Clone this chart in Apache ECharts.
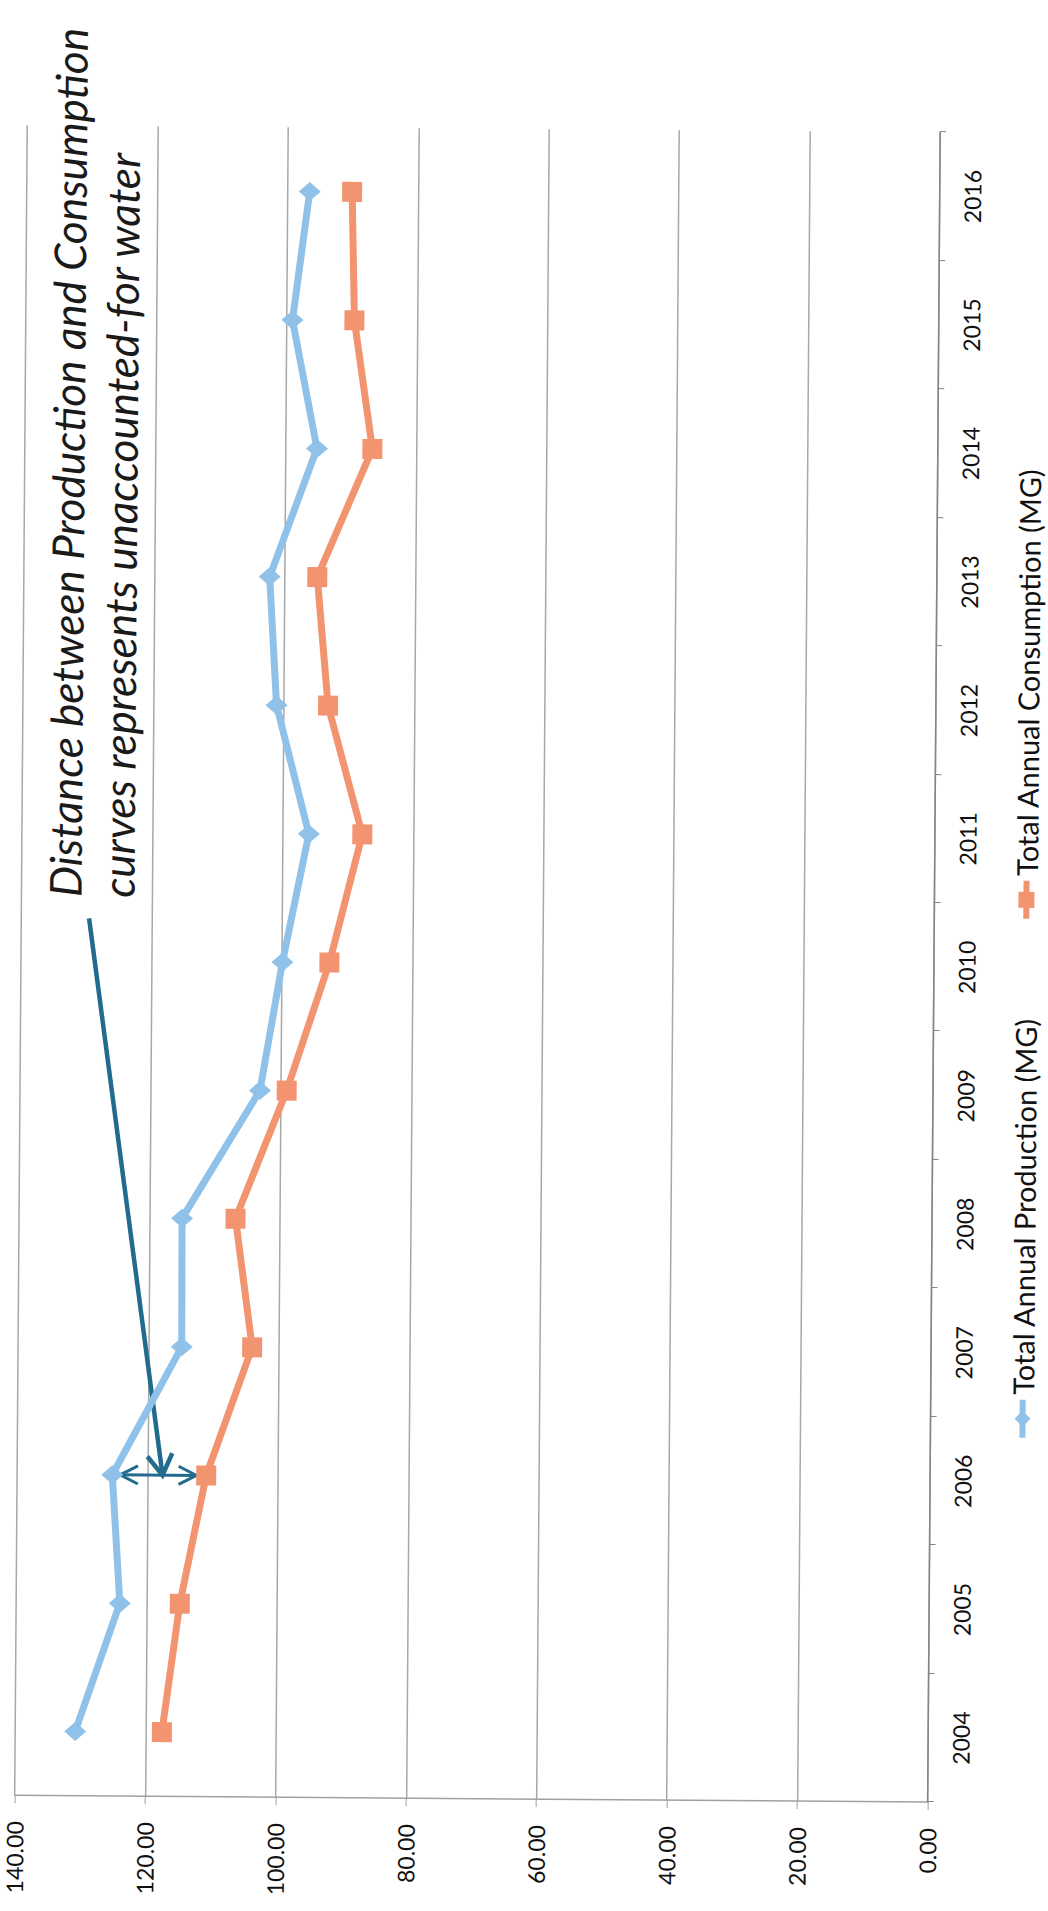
<!DOCTYPE html>
<html>
<head>
<meta charset="utf-8">
<script src="https://cdn.jsdelivr.net/npm/echarts@6/dist/echarts.min.js"></script>
<style>
  html, body { margin: 0; padding: 0; background: #fff; overflow: hidden; }
  #page { position: absolute; left: 0; top: 0; width: 1048px; height: 1911px;
          transform-origin: 524px 955px; transform: rotate(0.43deg); }
  /* landscape chart turned a quarter turn counter-clockwise onto the portrait page */
  #chart { position: absolute; left: 0; top: 0; width: 1911px; height: 1048px;
           transform-origin: 0 0; transform: translate(0, 1911px) rotate(-90deg); }
</style>
</head>
<body>
<div id="page"><div id="chart"></div></div>
<script>
// ---- data ----
const years = ['2004', '2005', '2006', '2007', '2008', '2009', '2010',
               '2011', '2012', '2013', '2014', '2015', '2016'];
const production  = [130.8, 124.1, 125.4, 114.9, 115.0, 103.2, 99.9, 96.0, 101.1, 102.3, 95.2, 99.1, 96.6];
const consumption = [117.5, 114.9, 111.0, 104.1, 106.8, 99.1, 92.7, 87.8, 93.2, 95.0, 86.7, 89.6, 90.1];
const seriesNames = ['Total Annual Production (MG)', 'Total Annual Consumption (MG)'];
const valueMin = 0, valueMax = 140, valueStep = 20;

// annotation: note text, the gap arrow at 2006 and the pointer leading to it
const noteLines = ['Distance between Production and Consumption',
                   'curves represents unaccounted-for water'];
const gapArrow = { index: 2, from: 124.2, to: 112.5 };          // category index, values
const pointerArrow = { start: [6.33, 129.6], end: [2.0, 117.7] }; // [category index, value]

// ---- styles ----
const FONT = 'Lato, "Open Sans", sans-serif';
const BLUE = '#8fc1e9';
const ORANGE = '#f39470';
const ARROW = '#236b8e';

const chart = echarts.init(document.getElementById('chart'), null, { renderer: 'svg' });

chart.setOption({
  backgroundColor: '#ffffff',
  animation: false,
  grid: { left: 112, right: 129, top: 21, bottom: 114, outerBoundsMode: 'none' },
  legend: {
    data: seriesNames,
    top: 1010, left: 474, padding: 0,
    itemGap: 96, itemWidth: 38, itemHeight: 20,
    lineStyle: { width: 6 },
    textStyle: { fontFamily: FONT, fontSize: 29, lineHeight: 32, color: '#111' }
  },
  xAxis: {
    type: 'category',
    data: years,
    boundaryGap: true,
    axisLine: { show: true, lineStyle: { color: '#858585', width: 1.5 } },
    axisTick: { show: true, length: 6, lineStyle: { color: '#858585' } },
    axisLabel: { fontFamily: FONT, fontSize: 23, color: '#111', margin: 21 },
    splitLine: { show: false }
  },
  yAxis: {
    type: 'value',
    min: valueMin, max: valueMax, interval: valueStep,
    axisLine: { show: true, lineStyle: { color: '#a0a0a0', width: 1.5 } },
    axisTick: { show: true, length: 8, lineStyle: { color: '#a0a0a0' } },
    axisLabel: { fontFamily: FONT, fontSize: 23, color: '#111', margin: 26,
                 formatter: v => v.toFixed(2) },
    splitLine: { show: true, lineStyle: { color: '#a8a8a8', width: 1.5 } }
  },
  series: [
    {
      name: seriesNames[0], type: 'line', data: production,
      symbol: 'diamond', symbolSize: [19, 22],
      lineStyle: { color: BLUE, width: 7 },
      itemStyle: { color: BLUE }
    },
    {
      name: seriesNames[1], type: 'line', data: consumption,
      symbol: 'rect', symbolSize: 20,
      lineStyle: { color: ORANGE, width: 7 },
      itemStyle: { color: ORANGE }
    }
  ]
});

// pixel position for a (possibly fractional) category index and a value
function toPx(idx, val) {
  const i0 = Math.floor(idx), t = idx - i0;
  const a = chart.convertToPixel({ gridIndex: 0 }, [i0, val]);
  if (t === 0) return a;
  const b = chart.convertToPixel({ gridIndex: 0 }, [i0 + 1, val]);
  return [a[0] + (b[0] - a[0]) * t, a[1]];
}
// open "V" head at tip, pointing away from the point `from`
function chevron(tip, from, len, half) {
  const ang = Math.atan2(tip[1] - from[1], tip[0] - from[0]);
  const p1 = [tip[0] - len * Math.cos(ang - half), tip[1] - len * Math.sin(ang - half)];
  const p2 = [tip[0] - len * Math.cos(ang + half), tip[1] - len * Math.sin(ang + half)];
  return [p1, tip, p2];
}

const gA = toPx(gapArrow.index, gapArrow.from);
const gB = toPx(gapArrow.index, gapArrow.to);
const pS = toPx(pointerArrow.start[0], pointerArrow.start[1]);
const pE = toPx(pointerArrow.end[0], pointerArrow.end[1]);
const noteX = pS[0] + 21;
const noteFont = 'italic 44px ' + FONT;

chart.setOption({
  graphic: [
    { type: 'text', x: noteX, y: 64, style: {
        text: noteLines[0], fill: '#1a1a1a', font: noteFont,
        align: 'left', verticalAlign: 'middle' } },
    { type: 'text', x: noteX, y: 117, style: {
        text: noteLines[1], fill: '#1a1a1a', font: noteFont,
        align: 'left', verticalAlign: 'middle' } },
    { type: 'polyline', shape: { points: [pS, pE] },
      style: { stroke: ARROW, lineWidth: 4.5, fill: null } },
    { type: 'polyline', shape: { points: chevron(pE, pS, 24, 0.55) },
      style: { stroke: ARROW, lineWidth: 4.5, fill: null, lineJoin: 'miter' } },
    { type: 'polyline', shape: { points: [gA, gB] },
      style: { stroke: ARROW, lineWidth: 3, fill: null } },
    { type: 'polyline', shape: { points: chevron(gA, gB, 20, 0.47) },
      style: { stroke: ARROW, lineWidth: 3, fill: null } },
    { type: 'polyline', shape: { points: chevron(gB, gA, 20, 0.47) },
      style: { stroke: ARROW, lineWidth: 3, fill: null } }
  ]
});
</script>
</body>
</html>
